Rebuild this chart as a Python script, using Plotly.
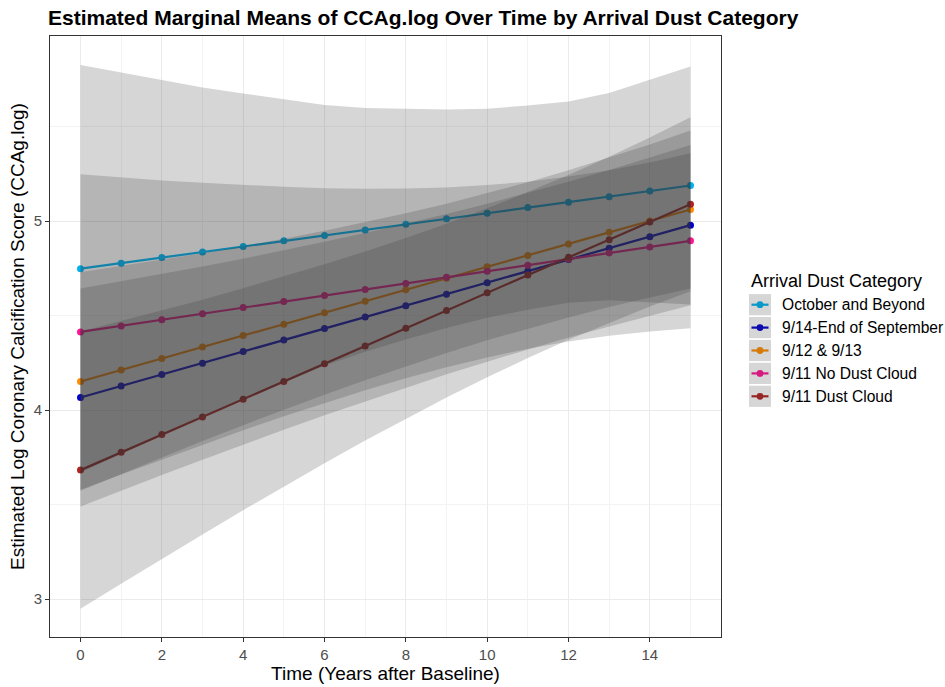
import plotly.graph_objects as go

years = list(range(16))

groups = ["October and Beyond", "9/14-End of September", "9/12 & 9/13",
          "9/11 No Dust Cloud", "9/11 Dust Cloud"]
colors = ["#00B2EE", "#0000CD", "#FF8C00", "#FF1493", "#B22222"]

# estimated marginal means
mean_october = [4.749, 4.778, 4.808, 4.837, 4.866, 4.896, 4.925, 4.954,
                4.984, 5.013, 5.042, 5.072, 5.101, 5.130, 5.160, 5.189]
mean_sep14 = [4.067, 4.128, 4.189, 4.249, 4.310, 4.371, 4.432, 4.493,
              4.553, 4.614, 4.675, 4.736, 4.797, 4.857, 4.918, 4.979]
mean_sep12 = [4.152, 4.213, 4.273, 4.334, 4.395, 4.455, 4.516, 4.577,
              4.637, 4.698, 4.759, 4.819, 4.880, 4.941, 5.001, 5.062]
mean_nodust = [4.414, 4.446, 4.478, 4.510, 4.543, 4.575, 4.607, 4.639,
               4.671, 4.703, 4.735, 4.767, 4.800, 4.832, 4.864, 4.896]
mean_dust = [3.683, 3.777, 3.871, 3.964, 4.058, 4.152, 4.246, 4.340,
             4.433, 4.527, 4.621, 4.715, 4.809, 4.902, 4.996, 5.090]

# confidence-interval half widths read from the ribbons
hw_october = [1.078, 1.01, 0.94, 0.87, 0.81, 0.75, 0.69, 0.645,
              0.61, 0.578, 0.553, 0.54, 0.533, 0.548, 0.589, 0.63]
hw_sep14 = [0.577, 0.554, 0.532, 0.511, 0.492, 0.475, 0.459, 0.445,
            0.434, 0.424, 0.418, 0.414, 0.412, 0.414, 0.418, 0.424]
hw_sep12 = [0.578, 0.550, 0.523, 0.497, 0.474, 0.452, 0.434, 0.418,
            0.405, 0.395, 0.389, 0.387, 0.389, 0.395, 0.405, 0.418]
hw_nodust = [0.835, 0.786, 0.738, 0.693, 0.649, 0.607, 0.568, 0.533,
             0.502, 0.476, 0.456, 0.442, 0.436, 0.438, 0.447, 0.463]
hw_dust = [0.734, 0.695, 0.657, 0.621, 0.587, 0.556, 0.526, 0.500,
           0.478, 0.460, 0.447, 0.439, 0.436, 0.439, 0.447, 0.460]

means = [mean_october, mean_sep14, mean_sep12, mean_nodust, mean_dust]
hws = [hw_october, hw_sep14, hw_sep12, hw_nodust, hw_dust]

FONT = "Liberation Sans, Arial, sans-serif"
RIBBON = "rgba(51,51,51,0.2)"

fig = go.Figure()

# lines first (ribbons are drawn over them, as in the original)
for name, col, m in zip(groups, colors, means):
    fig.add_trace(go.Scatter(
        x=years, y=m, mode="lines+markers", name=name,
        line=dict(color=col, width=2.2), marker=dict(color=col, size=7),
        showlegend=False, hoverinfo="skip"))

for name, m, h in zip(groups, means, hws):
    upper = [a + b for a, b in zip(m, h)]
    lower = [a - b for a, b in zip(m, h)]
    fig.add_trace(go.Scatter(
        x=years + years[::-1], y=upper + lower[::-1], fill="toself",
        fillcolor=RIBBON, mode="lines", line=dict(width=0),
        showlegend=False, hoverinfo="skip", name=name + " CI"))

L, R, T, B = 50, 224, 36, 50
W, H = 945, 687
pw, ph = W - L - R, H - T - B


def px_x(p):
    return (p - L) / pw


def px_y(p):
    return (H - B - p) / ph


shapes = []
annotations = []

# manual legend mimicking ggplot keys (line under a grey ribbon key)
annotations.append(dict(x=px_x(749), y=px_y(281), xref="paper", yref="paper",
                        text="Arrival Dust Category", showarrow=False,
                        xanchor="left", yanchor="middle",
                        font=dict(family=FONT, size=18, color="#000000")))
row0, step = 304.7, 22.9
for i, (name, col) in enumerate(zip(groups, colors)):
    cy = row0 + i * step
    shapes.append(dict(type="line", xref="paper", yref="paper",
                       x0=px_x(751.5), x1=px_x(768.5), y0=px_y(cy), y1=px_y(cy),
                       line=dict(color=col, width=2.2)))
    shapes.append(dict(type="circle", xref="paper", yref="paper",
                       x0=px_x(756.6), x1=px_x(763.4), y0=px_y(cy + 3.4), y1=px_y(cy - 3.4),
                       fillcolor=col, line=dict(width=0)))
    shapes.append(dict(type="rect", xref="paper", yref="paper",
                       x0=px_x(749), x1=px_x(771), y0=px_y(cy + 10.6), y1=px_y(cy - 10.6),
                       fillcolor=RIBBON, line=dict(width=0)))
    annotations.append(dict(x=px_x(780), y=px_y(cy), xref="paper", yref="paper",
                            text=name, showarrow=False, xanchor="left", yanchor="middle",
                            font=dict(family=FONT, size=15.6, color="#000000")))

fig.update_layout(
    width=W, height=H,
    margin=dict(l=L, r=R, t=T, b=B),
    paper_bgcolor="white", plot_bgcolor="white",
    font=dict(family=FONT),
    title=dict(text="<b>Estimated Marginal Means of CCAg.log Over Time by Arrival Dust Category</b>",
               x=48 / W, xanchor="left", y=1 - 18 / H, yanchor="middle",
               font=dict(family=FONT, size=21, color="#000000")),
    shapes=shapes, annotations=annotations,
    showlegend=False,
)
fig.update_xaxes(
    range=[-0.75, 15.75], tickmode="array", tickvals=[0, 2, 4, 6, 8, 10, 12, 14],
    ticks="outside", ticklen=4, tickcolor="#333333",
    tickfont=dict(family=FONT, size=15, color="#4D4D4D"),
    showgrid=True, gridcolor="#EBEBEB", gridwidth=1,
    minor=dict(tickmode="array", tickvals=[1, 3, 5, 7, 9, 11, 13, 15],
               showgrid=True, gridcolor="#F3F3F3", gridwidth=0.6, ticks=""),
    showline=True, mirror=True, linecolor="#333333", linewidth=1,
    zeroline=False, automargin=False,
    title=dict(text="Time (Years after Baseline)", standoff=4,
               font=dict(family=FONT, size=19, color="#000000")),
)
fig.update_yaxes(
    range=[2.80, 5.98], tickmode="array", tickvals=[3, 4, 5],
    ticks="outside", ticklen=4, tickcolor="#333333",
    tickfont=dict(family=FONT, size=15, color="#4D4D4D"),
    showgrid=True, gridcolor="#EBEBEB", gridwidth=1,
    minor=dict(tickmode="array", tickvals=[3.5, 4.5, 5.5],
               showgrid=True, gridcolor="#F3F3F3", gridwidth=0.6, ticks=""),
    showline=True, mirror=True, linecolor="#333333", linewidth=1,
    zeroline=False, automargin=False,
    title=dict(text="Estimated Log Coronary Calcification Score (CCAg.log)", standoff=4,
               font=dict(family=FONT, size=19, color="#000000")),
)

fig.write_html("out.html")
